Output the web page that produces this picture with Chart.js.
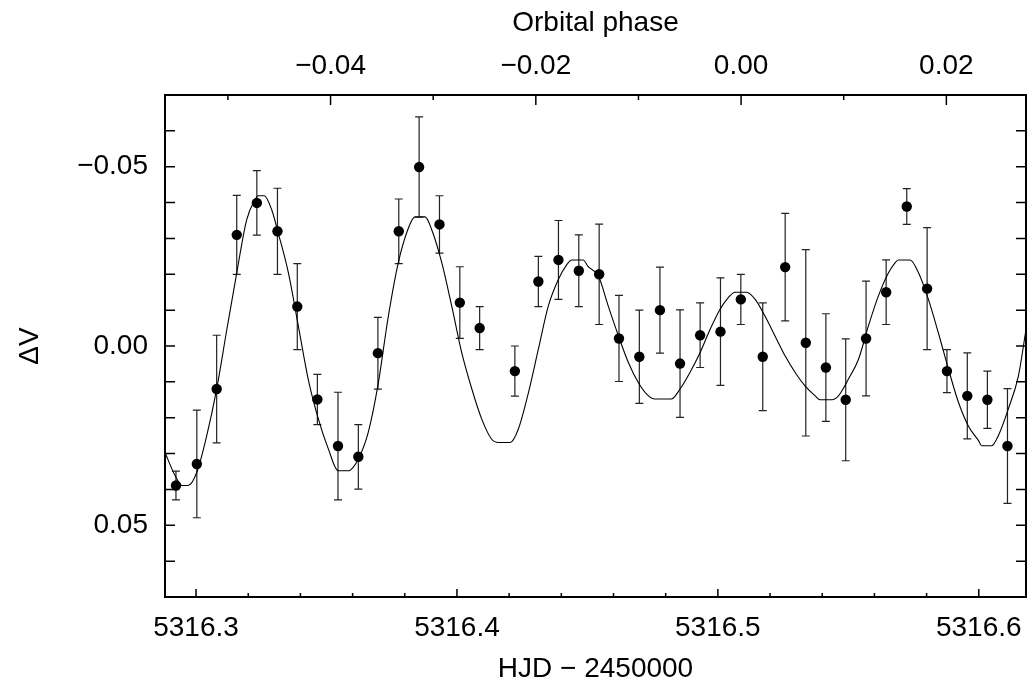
<!DOCTYPE html>
<html>
<head>
<meta charset="utf-8">
<script src="https://cdn.jsdelivr.net/npm/chart.js@4.4.1/dist/chart.umd.min.js"></script>
<style>
  body { margin: 0; background: #fff; }
</style>
</head>
<body>
<canvas id="myChart" width="1027" height="687"></canvas>
<script>
// photometry: HJD - 2450000, delta V and its error
const hjd = [5316.2923, 5316.3003, 5316.3079, 5316.3156, 5316.3233, 5316.3312, 5316.3388, 5316.3465,
  5316.3544, 5316.3622, 5316.3697, 5316.3777, 5316.3855, 5316.3933, 5316.4011, 5316.4087,
  5316.4222, 5316.4312, 5316.4389, 5316.4467, 5316.4545, 5316.4621, 5316.4699, 5316.4778,
  5316.4855, 5316.4932, 5316.5010, 5316.5088, 5316.5172, 5316.5258, 5316.5337, 5316.5414,
  5316.5490, 5316.5568, 5316.5645, 5316.5724, 5316.5802, 5316.5878, 5316.5956, 5316.6033, 5316.6110];
const dV = [0.0389, 0.0329, 0.0120, -0.0310, -0.0399, -0.0320, -0.0110, 0.0149,
  0.0279, 0.0309, 0.0020, -0.0320, -0.0499, -0.0339, -0.0121, -0.0050,
  0.0070, -0.0180, -0.0240, -0.0210, -0.0200, -0.0021, 0.0030, -0.0100,
  0.0049, -0.0030, -0.0040, -0.0130, 0.0030, -0.0220, -0.0009, 0.0060,
  0.0150, -0.0021, -0.0150, -0.0389, -0.0160, 0.0070, 0.0139, 0.0150, 0.0279];
const dVerr = [0.004, 0.015, 0.015, 0.011, 0.009, 0.012, 0.012, 0.007,
  0.015, 0.009, 0.010, 0.009, 0.014, 0.008, 0.010, 0.006,
  0.007, 0.007, 0.011, 0.010, 0.014, 0.012, 0.013, 0.012,
  0.015, 0.009, 0.015, 0.007, 0.015, 0.015, 0.026, 0.015,
  0.017, 0.016, 0.009, 0.005, 0.017, 0.006, 0.012, 0.008, 0.016];

// model light curve
const modelHjd = [5316.2881, 5316.2920, 5316.2946, 5316.2969, 5316.3003, 5316.3041, 5316.3079, 5316.3118,
  5316.3156, 5316.3194, 5316.3226, 5316.3239, 5316.3261, 5316.3290, 5316.3315, 5316.3354,
  5316.3392, 5316.3430, 5316.3469, 5316.3507, 5316.3545, 5316.3584, 5316.3622, 5316.3660,
  5316.3697, 5316.3737, 5316.3775, 5316.3814, 5316.3839, 5316.3878, 5316.3903, 5316.3942,
  5316.3980, 5316.4018, 5316.4057, 5316.4095, 5316.4133, 5316.4159, 5316.4204, 5316.4235,
  5316.4274, 5316.4312, 5316.4350, 5316.4389, 5316.4421, 5316.4440, 5316.4484, 5316.4502,
  5316.4542, 5316.4580, 5316.4619, 5316.4657, 5316.4695, 5316.4727, 5316.4759, 5316.4821,
  5316.4855, 5316.4893, 5316.4932, 5316.4970, 5316.5008, 5316.5040, 5316.5066, 5316.5110,
  5316.5143, 5316.5181, 5316.5219, 5316.5258, 5316.5302, 5316.5334, 5316.5373, 5316.5392,
  5316.5437, 5316.5462, 5316.5500, 5316.5539, 5316.5577, 5316.5615, 5316.5654, 5316.5679,
  5316.5692, 5316.5737, 5316.5769, 5316.5807, 5316.5845, 5316.5884, 5316.5922, 5316.5960,
  5316.5999, 5316.6011, 5316.6050, 5316.6075, 5316.6113, 5316.6152, 5316.6181];
const modelDV = [0.0297, 0.0362, 0.0389, 0.0389, 0.0352, 0.0250, 0.0120, -0.0046,
  -0.0204, -0.0352, -0.0408, -0.0419, -0.0419, -0.0380, -0.0315, -0.0204,
  -0.0056, 0.0093, 0.0204, 0.0287, 0.0348, 0.0348, 0.0315, 0.0241,
  0.0110, -0.0083, -0.0232, -0.0329, -0.0360, -0.0360, -0.0325, -0.0232,
  -0.0111, 0.0018, 0.0120, 0.0204, 0.0260, 0.0269, 0.0269, 0.0232,
  0.0130, 0.0009, -0.0111, -0.0186, -0.0227, -0.0240, -0.0240, -0.0222,
  -0.0195, -0.0111, -0.0028, 0.0046, 0.0102, 0.0134, 0.0148, 0.0148,
  0.0120, 0.0074, 0.0018, -0.0046, -0.0102, -0.0135, -0.0150, -0.0150,
  -0.0130, -0.0083, -0.0028, 0.0028, 0.0080, 0.0111, 0.0139, 0.0150,
  0.0150, 0.0139, 0.0093, 0.0037, -0.0056, -0.0139, -0.0204, -0.0232,
  -0.0240, -0.0240, -0.0204, -0.0130, -0.0037, 0.0065, 0.0157, 0.0223,
  0.0264, 0.0278, 0.0278, 0.0250, 0.0176, 0.0083, -0.0046];

// axes
const hjdMin = 5316.2881, hjdMax = 5316.6181;
const T0 = 5316.5089, period = 3.9337; // orbital phase = (HJD - T0) / period
const hjdTicks = [5316.30, 5316.32, 5316.34, 5316.36, 5316.38, 5316.40, 5316.42, 5316.44, 5316.46, 5316.48,
  5316.50, 5316.52, 5316.54, 5316.56, 5316.58, 5316.60];
const hjdMajor = [5316.3, 5316.4, 5316.5, 5316.6];
const phaseTicks = [-0.05, -0.04, -0.03, -0.02, -0.01, 0.00, 0.01, 0.02];
const phaseMajor = [-0.04, -0.02, 0.00, 0.02];
const dVTicks = [-0.06, -0.05, -0.04, -0.03, -0.02, -0.01, 0.00, 0.01, 0.02, 0.03, 0.04, 0.05, 0.06];
const dVMajor = [-0.05, 0.00, 0.05];

const FONT = 'Liberation Sans, Arial, sans-serif';

function isIn(list, v) {
    return list.some(function (m) { return Math.abs(m - v) < 1e-6; });
}
function minus(s) {
    return s.replace('-', '\u2212');
}

// vertical error bars, drawn under the points
const errorBars = {
    id: 'errorBars',
    beforeDatasetsDraw(chart) {
        const ctx = chart.ctx, x = chart.scales.x, y = chart.scales.y, a = chart.chartArea;
        ctx.save();
        ctx.beginPath();
        ctx.rect(a.left, a.top, a.right - a.left, a.bottom - a.top);
        ctx.clip();
        ctx.strokeStyle = '#222';
        ctx.lineWidth = 1.2;
        hjd.forEach(function (t, i) {
            const px = x.getPixelForValue(t);
            const top = y.getPixelForValue(dV[i] - dVerr[i]);
            const bot = y.getPixelForValue(dV[i] + dVerr[i]);
            ctx.beginPath();
            ctx.moveTo(px, top); ctx.lineTo(px, bot);
            ctx.moveTo(px - 4, top); ctx.lineTo(px + 4, top);
            ctx.moveTo(px - 4, bot); ctx.lineTo(px + 4, bot);
            ctx.stroke();
        });
        ctx.restore();
    }
};

// box frame with inward tick marks on all four sides
const frameTicks = {
    id: 'frameTicks',
    afterDraw(chart) {
        const ctx = chart.ctx, a = chart.chartArea;
        const x = chart.scales.x, x2 = chart.scales.x2, y = chart.scales.y;
        ctx.save();
        ctx.strokeStyle = '#000';
        ctx.lineWidth = 1.5;
        ctx.beginPath();
        x.ticks.forEach(function (t) {
            const px = x.getPixelForValue(t.value);
            const len = isIn(hjdMajor, t.value) ? 8 : 4;
            ctx.moveTo(px, a.bottom); ctx.lineTo(px, a.bottom - len);
        });
        x2.ticks.forEach(function (t) {
            const px = x2.getPixelForValue(t.value);
            const len = isIn(phaseMajor, t.value) ? 10 : 5;
            ctx.moveTo(px, a.top); ctx.lineTo(px, a.top + len);
        });
        y.ticks.forEach(function (t) {
            const py = y.getPixelForValue(t.value);
            ctx.moveTo(a.left, py); ctx.lineTo(a.left + 10, py);
            ctx.moveTo(a.right, py); ctx.lineTo(a.right - 10, py);
        });
        ctx.stroke();
        ctx.lineWidth = 2;
        ctx.strokeRect(a.left, a.top, a.right - a.left, a.bottom - a.top);
        ctx.restore();
    }
};

const ctx = document.getElementById('myChart');

new Chart(ctx, {
    type: 'line',
    data: {
        datasets: [{
            label: 'observed',
            data: hjd.map(function (t, i) { return { x: t, y: dV[i] }; }),
            showLine: false,
            pointRadius: 5.2,
            pointBackgroundColor: '#000',
            pointBorderWidth: 0
        }, {
            label: 'model',
            data: modelHjd.map(function (t, i) { return { x: t, y: modelDV[i] }; }),
            borderColor: '#000',
            borderWidth: 1.1,
            pointRadius: 0,
            cubicInterpolationMode: 'monotone'
        }]
    },
    options: {
        responsive: false,
        animation: false,
        layout: { autoPadding: false, padding: { left: 0, right: 1, top: 0, bottom: 0 } },
        plugins: {
            legend: { display: false },
            tooltip: { enabled: false }
        },
        scales: {
            x: {
                type: 'linear',
                position: 'bottom',
                min: hjdMin,
                max: hjdMax,
                grid: { display: false, drawTicks: false },
                border: { display: false },
                afterBuildTicks: function (s) { s.ticks = hjdTicks.map(function (v) { return { value: v }; }); },
                afterFit: function (s) { s.height = 90; s.paddingLeft = 0; s.paddingRight = 0; },
                ticks: {
                    padding: 14,
                    maxRotation: 0,
                    autoSkip: false,
                    color: '#000',
                    font: { family: FONT, size: 28 },
                    callback: function (v) { return isIn(hjdMajor, v) ? v.toFixed(1) : ''; }
                },
                title: {
                    display: true, text: 'HJD \u2212 2450000', color: '#000',
                    font: { family: FONT, size: 28 }, padding: { top: 0, bottom: 1 }
                }
            },
            x2: {
                type: 'linear',
                position: 'top',
                min: (hjdMin - T0) / period,
                max: (hjdMax - T0) / period,
                grid: { display: false, drawTicks: false },
                border: { display: false },
                afterBuildTicks: function (s) { s.ticks = phaseTicks.map(function (v) { return { value: v }; }); },
                afterFit: function (s) { s.height = 95; s.paddingLeft = 0; s.paddingRight = 0; },
                ticks: {
                    padding: 12,
                    maxRotation: 0,
                    autoSkip: false,
                    color: '#000',
                    font: { family: FONT, size: 28 },
                    callback: function (v) { return isIn(phaseMajor, v) ? minus(v.toFixed(2)) : ''; }
                },
                title: {
                    display: true, text: 'Orbital phase', color: '#000',
                    font: { family: FONT, size: 28 }, padding: { top: 6, bottom: 0 }
                }
            },
            y: {
                type: 'linear',
                reverse: true,
                min: -0.07,
                max: 0.07,
                grid: { display: false, drawTicks: false },
                border: { display: false },
                afterBuildTicks: function (s) { s.ticks = dVTicks.map(function (v) { return { value: v }; }); },
                afterFit: function (s) { s.width = 165; s.paddingTop = 0; s.paddingBottom = 0; },
                ticks: {
                    padding: 17,
                    autoSkip: false,
                    color: '#000',
                    font: { family: FONT, size: 28 },
                    callback: function (v) { return isIn(dVMajor, v) ? minus(v.toFixed(2)) : ''; }
                },
                title: {
                    display: true, text: '\u0394V', color: '#000',
                    font: { family: FONT, size: 28 }, padding: { top: 13, bottom: 0 }
                }
            }
        }
    },
    plugins: [errorBars, frameTicks]
});
</script>
</body>
</html>
